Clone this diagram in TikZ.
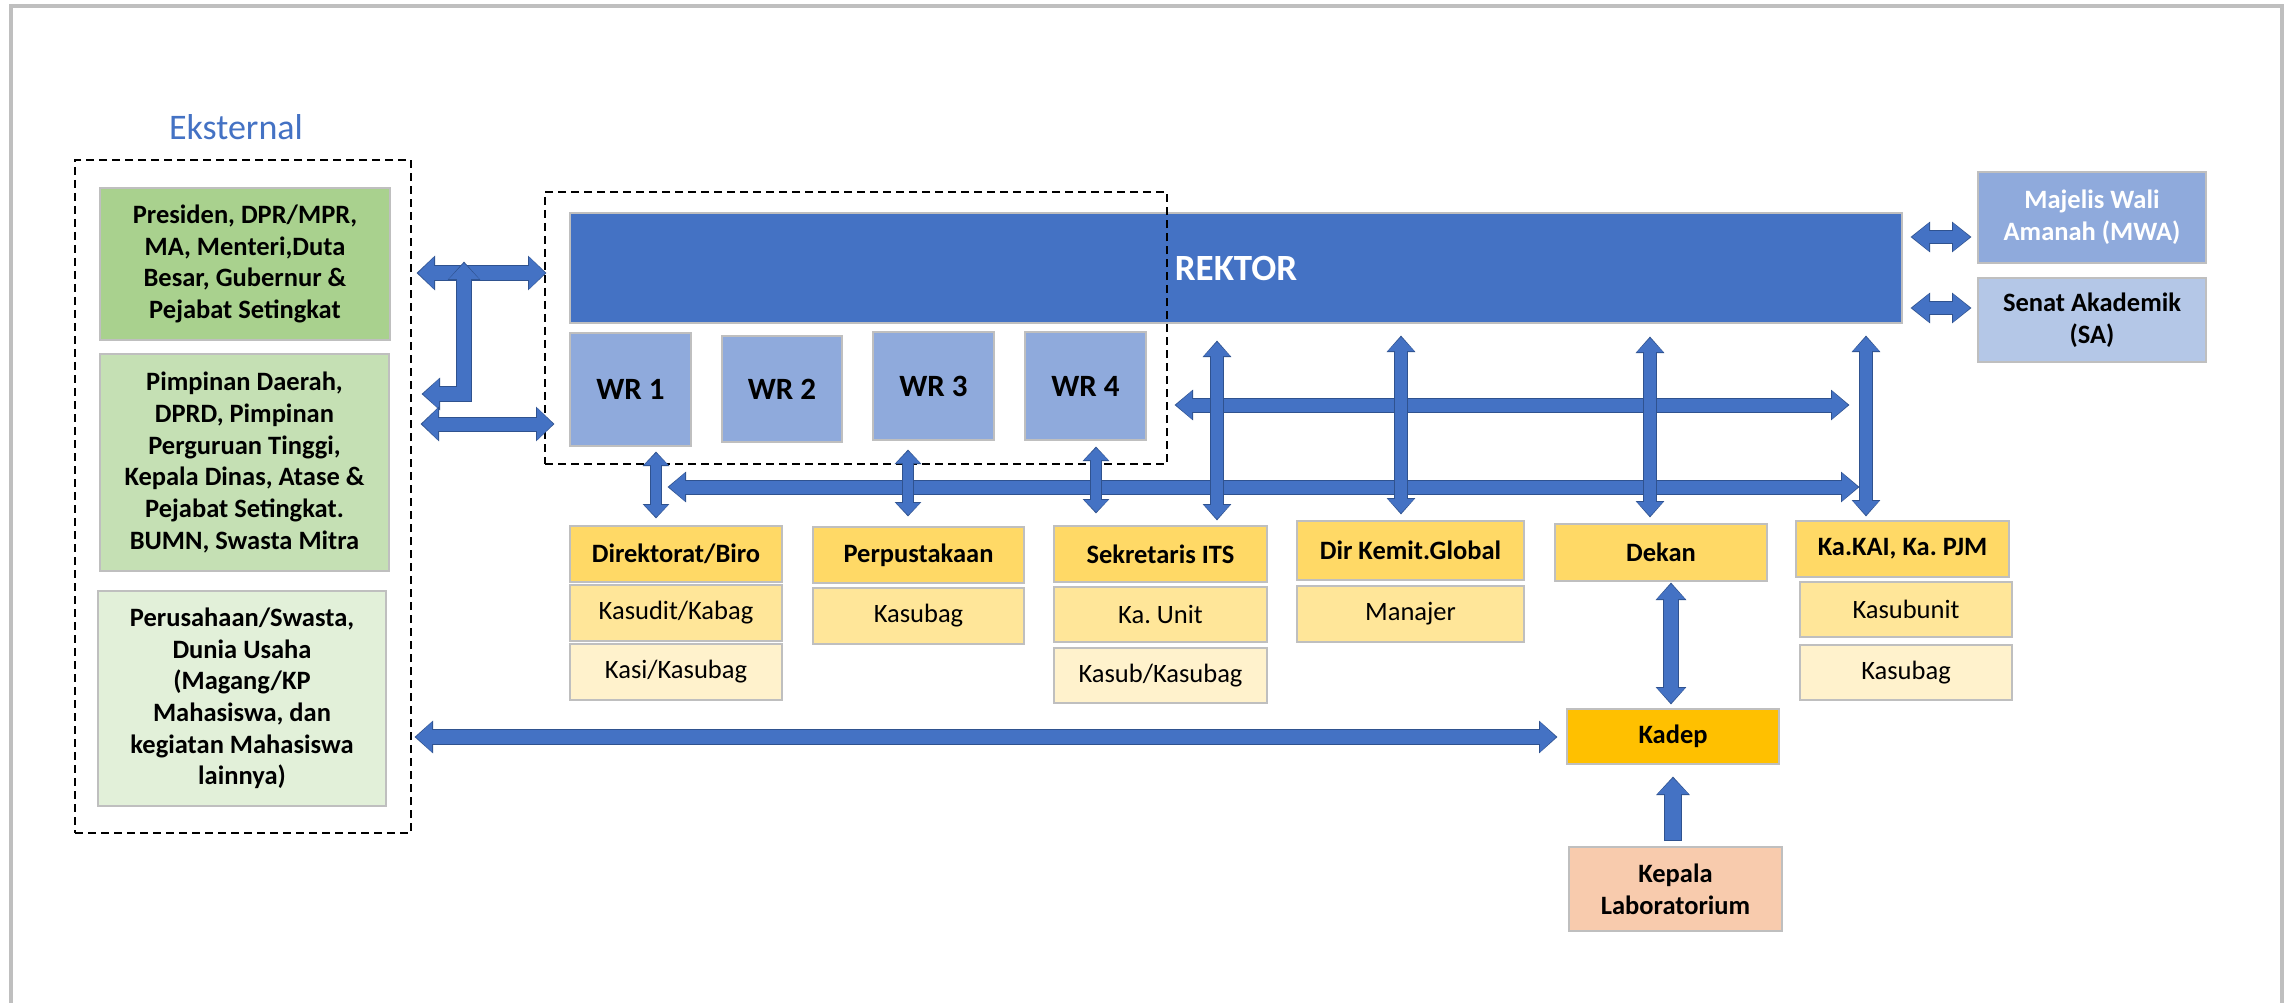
\documentclass[tikz,border=0pt]{standalone}
\usepackage{fontspec}
\setmainfont{Carlito}
\frenchspacing
\usetikzlibrary{arrows.meta}
\definecolor{rekblue}{HTML}{4472C4}
\definecolor{wrblue}{HTML}{8FAADC}
\definecolor{sablue}{HTML}{B4C7E7}
\definecolor{gA}{HTML}{A9D18E}
\definecolor{gB}{HTML}{C5E0B4}
\definecolor{gC}{HTML}{E2F0D9}
\definecolor{yA}{HTML}{FFD966}
\definecolor{yB}{HTML}{FFE699}
\definecolor{yC}{HTML}{FFF2CC}
\definecolor{kadepc}{HTML}{FFC000}
\definecolor{labc}{HTML}{F8CBAD}
\definecolor{arrowblue}{HTML}{4472C4}
\definecolor{arrowdark}{HTML}{2F528F}
\definecolor{boxgray}{HTML}{BFBFBF}
\definecolor{framegray}{HTML}{BFBFBF}
\tikzset{
  ba/.code n args={3}{%
    \pgfmathsetlengthmacro\baw{#1+2pt}%
    \pgfmathsetlengthmacro\bah{#2+2.8pt}%
    \pgfmathsetlengthmacro\bal{#3+2.4pt}%
    \edef\baopts{line width=#1, draw=arrowblue, line join=miter,
      arrows={Triangle[width=#2,length=#3,line width=0pt]-Triangle[width=#2,length=#3,line width=0pt]},
      preaction={draw=arrowdark, line width=\baw, line join=miter, shorten <=-1.4pt, shorten >=-1.4pt,
      arrows={Triangle[width=\bah,length=\bal,line width=0pt]-Triangle[width=\bah,length=\bal,line width=0pt]}}}%
    \expandafter\tikzset\expandafter{\baopts}%
  },
  bs/.code n args={3}{%
    \pgfmathsetlengthmacro\baw{#1+2pt}%
    \pgfmathsetlengthmacro\bah{#2+2.8pt}%
    \pgfmathsetlengthmacro\bal{#3+2.4pt}%
    \edef\baopts{line width=#1, draw=arrowblue, line join=miter,
      arrows={-Triangle[width=#2,length=#3,line width=0pt]},
      preaction={draw=arrowdark, line width=\baw, line join=miter, shorten <=-1pt, shorten >=-1.4pt,
      arrows={-Triangle[width=\bah,length=\bal,line width=0pt]}}}%
    \expandafter\tikzset\expandafter{\baopts}%
  },
  box/.style={draw=boxgray, line width=1.5pt, inner sep=0pt, align=center,
    font=\fontsize{26.5}{31.7}\selectfont\bfseries},
  subbox/.style={draw=boxgray, line width=1.5pt, inner sep=0pt, align=center,
    font=\fontsize{26.5}{31.7}\selectfont},
  dashbox/.style={draw=black, line width=2pt, dash pattern=on 8pt off 5pt, inner sep=0pt},
}
\begin{document}
\begin{tikzpicture}[x=1pt,y=-1pt]
\useasboundingbox (0,0) rectangle (2295,1003);
\fill[white] (0,0) rectangle (2295,1003);
\draw[framegray, line width=4pt] (11,1003) -- (11,6) -- (2282,6) -- (2282,1003);

% title
\node[font=\fontsize{36}{43}\selectfont, text=rekblue] (eks) at (236,127) {Eksternal};

% external boxes
\node[box, fill=gA, minimum width=290pt, minimum height=152pt] (g1) at (245,264)
  {Presiden, DPR/MPR,\\MA, Menteri,Duta\\Besar, Gubernur \&\\Pejabat Setingkat};
\node[box, fill=gB, minimum width=289pt, minimum height=217pt] (g2) at (244.5,462.5)
  {Pimpinan Daerah,\\DPRD, Pimpinan\\Perguruan Tinggi,\\Kepala Dinas, Atase \&\\Pejabat Setingkat.\\BUMN, Swasta Mitra};
\node[box, fill=gC, minimum width=288pt, minimum height=215pt] (g3) at (242,698.5)
  {Perusahaan/Swasta,\\Dunia Usaha\\(Magang/KP\\Mahasiswa, dan\\kegiatan Mahasiswa\\lainnya)};

% rektor and WR
\node[box, fill=rekblue, text=white, minimum width=1332pt, minimum height=110pt,
  font=\fontsize{37}{44}\selectfont\bfseries] (rektor) at (1236,268) {REKTOR};
\node[box, fill=wrblue, minimum width=121pt, minimum height=113pt, font=\fontsize{31}{37}\selectfont\bfseries] (wr1) at (630.5,389.5) {WR 1};
\node[box, fill=wrblue, minimum width=120pt, minimum height=106pt, font=\fontsize{31}{37}\selectfont\bfseries] (wr2) at (782,389) {WR 2};
\node[box, fill=wrblue, minimum width=121pt, minimum height=108pt, font=\fontsize{31}{37}\selectfont\bfseries] (wr3) at (933.5,386) {WR 3};
\node[box, fill=wrblue, minimum width=121pt, minimum height=108pt, font=\fontsize{31}{37}\selectfont\bfseries] (wr4) at (1085.5,386) {WR 4};

% MWA / SA
\node[box, fill=wrblue, text=white, minimum width=228pt, minimum height=91pt] (mwa) at (2092,217.5) {Majelis Wali\\Amanah (MWA)};
\node[box, fill=sablue, minimum width=228pt, minimum height=84pt] (sa) at (2092,320) {Senat Akademik\\(SA)};

% units
\node[box, fill=yA, minimum width=212pt, minimum height=56pt] (dir) at (676,554) {Direktorat/Biro};
\node[subbox, fill=yB, minimum width=212pt, minimum height=56pt] (kasudit) at (676,613) {Kasudit/Kabag};
\node[subbox, fill=yC, minimum width=212pt, minimum height=56pt] (kasi) at (676,672) {Kasi/Kasubag};

\node[box, fill=yA, minimum width=211pt, minimum height=56pt] (perp) at (918.5,555) {Perpustakaan};
\node[subbox, fill=yB, minimum width=211pt, minimum height=56pt] (perpsub) at (918.5,616) {Kasubag};

\node[box, fill=yA, minimum width=213pt, minimum height=56pt] (sek) at (1160.5,554) {Sekretaris ITS};
\node[subbox, fill=yB, minimum width=213pt, minimum height=55pt] (kaunit) at (1160.5,614.5) {Ka. Unit};
\node[subbox, fill=yC, minimum width=213pt, minimum height=55pt] (kasub) at (1160.5,675.5) {Kasub/Kasubag};

\node[box, fill=yA, minimum width=227pt, minimum height=59pt] (dirk) at (1410.5,550.5) {Dir Kemit.Global};
\node[subbox, fill=yB, minimum width=227pt, minimum height=56pt] (manajer) at (1410.5,614) {Manajer};

\node[box, fill=yA, minimum width=212pt, minimum height=57pt] (dekan) at (1661,552.5) {Dekan};

\node[box, fill=yA, minimum width=213pt, minimum height=56pt] (kakai) at (1902.5,549) {Ka.KAI, Ka. PJM};
\node[subbox, fill=yB, minimum width=212pt, minimum height=55pt] (kasubunit) at (1906,609.5) {Kasubunit};
\node[subbox, fill=yC, minimum width=212pt, minimum height=55pt] (kasubag) at (1906,672.5) {Kasubag};

\node[box, fill=kadepc, minimum width=212pt, minimum height=55pt] (kadep) at (1673,736.5) {Kadep};
\node[box, fill=labc, minimum width=213pt, minimum height=84pt] (lab) at (1675.5,889) {Kepala\\Laboratorium};

% dashed groups
\node[dashbox, minimum width=336pt, minimum height=673pt] (extgrp) at (243,496.5) {};
\node[dashbox, minimum width=622pt, minimum height=272pt] (rekgrp) at (856,328) {};

% arrow end points
\coordinate (a1l) at (418,273);  \coordinate (a1r) at (545,273);
\coordinate (a2l) at (423,394);  \coordinate (a2c) at (464,394); \coordinate (a2t) at (464,263);
\coordinate (a3l) at (422,424);  \coordinate (a3r) at (553,424);
\coordinate (w1t) at (656,453);  \coordinate (w1b) at (656,517);
\coordinate (w3t) at (908,451);  \coordinate (w3b) at (908,515);
\coordinate (w4t) at (1096,448); \coordinate (w4b) at (1096,512);
\coordinate (hll) at (669,487);  \coordinate (hlr) at (1858,487);
\coordinate (hul) at (1176,405); \coordinate (hur) at (1848,405);
\coordinate (v1t) at (1217,342); \coordinate (v1b) at (1217,519);
\coordinate (v2t) at (1401,337); \coordinate (v2b) at (1401,513);
\coordinate (v3t) at (1650,338); \coordinate (v3b) at (1650,516);
\coordinate (v4t) at (1866,337); \coordinate (v4b) at (1866,515);
\coordinate (m1l) at (1912,237); \coordinate (m1r) at (1970,237);
\coordinate (s1l) at (1912,308); \coordinate (s1r) at (1970,308);
\coordinate (dkt) at (1671,584); \coordinate (dkb) at (1671,703);
\coordinate (lbb) at (1673,840); \coordinate (lbt) at (1673,778);
\coordinate (bl)  at (416,737);  \coordinate (br)  at (1556,737);

% arrows
\draw[ba={13pt}{32pt}{16pt}] (a1l) -- (a1r);
\draw[ba={14pt}{30pt}{16pt}] (a2l) -- (a2c) -- (a2t);
\draw[ba={13pt}{32pt}{16pt}] (a3l) -- (a3r);
\draw[ba={13pt}{28pt}{16pt}] (hll) -- (hlr);
\draw[ba={13pt}{28pt}{16pt}] (hul) -- (hur);
\draw[ba={10pt}{24pt}{12pt}] (w1t) -- (w1b);
\draw[ba={10pt}{24pt}{12pt}] (w3t) -- (w3b);
\draw[ba={10pt}{24pt}{12pt}] (w4t) -- (w4b);
\draw[ba={12pt}{26pt}{14pt}] (v1t) -- (v1b);
\draw[ba={12pt}{26pt}{14pt}] (v2t) -- (v2b);
\draw[ba={12pt}{26pt}{14pt}] (v3t) -- (v3b);
\draw[ba={12pt}{26pt}{14pt}] (v4t) -- (v4b);
\draw[ba={12pt}{28pt}{17pt}] (m1l) -- (m1r);
\draw[ba={12pt}{28pt}{17pt}] (s1l) -- (s1r);
\draw[ba={14pt}{28pt}{15pt}] (dkt) -- (dkb);
\draw[bs={16pt}{31pt}{16pt}] (lbb) -- (lbt);
\draw[ba={14pt}{30pt}{16pt}] (bl) -- (br);
\end{tikzpicture}
\end{document}
